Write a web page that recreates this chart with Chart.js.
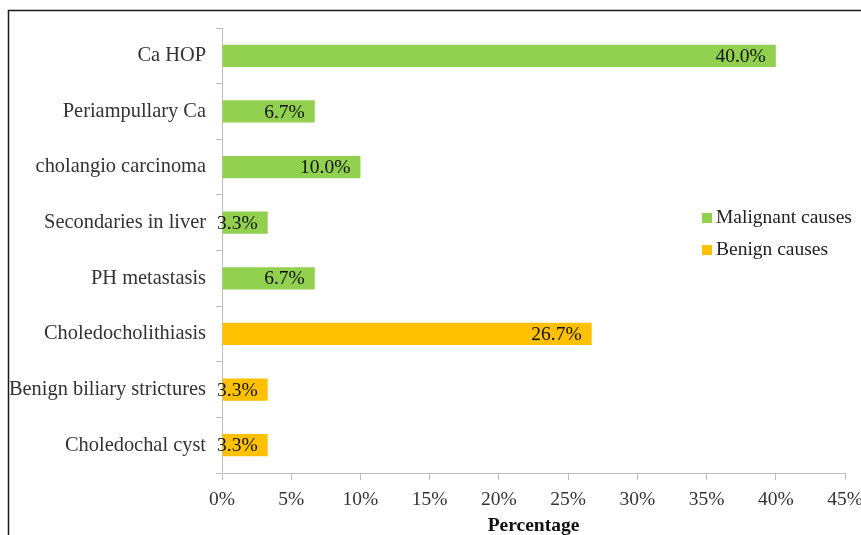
<!DOCTYPE html>
<html>
<head>
<meta charset="utf-8">
<script src="https://cdn.jsdelivr.net/npm/chart.js@4"></script>
<style>
html,body{margin:0;padding:0;background:#fff;}
#wrap{width:861px;height:535px;position:relative;}
</style>
</head>
<body>
<div id="wrap"><canvas id="c" width="861" height="535"></canvas></div>
<script>
const categories = ["Ca HOP","Periampullary Ca","cholangio carcinoma","Secondaries in liver","PH metastasis","Choledocholithiasis","Benign biliary strictures","Choledochal cyst"];
const malignantValues = [40.0, 6.7, 10.0, 3.3, 6.7, null, null, null];
const benignValues = [null, null, null, null, null, 26.7, 3.3, 3.3];
const xTicks = [0,5,10,15,20,25,30,35,40,45];
const seriesNames = ["Malignant causes","Benign causes"];
const seriesColors = ["#92D050","#FFC000"];

const FONT = "'Liberation Serif','Times New Roman',serif";
const FS = 19.5;
const CAT_FS = 20.4;

const borderPlugin = {
  id:'frame',
  beforeDraw(chart){
    const ctx = chart.ctx;
    ctx.save();
    ctx.fillStyle = '#fff';
    ctx.fillRect(0,0,chart.width,chart.height);
    ctx.strokeStyle = '#1a1a1a';
    ctx.lineWidth = 1.5;
    ctx.beginPath();
    ctx.moveTo(8.5, 540);
    ctx.lineTo(8.5, 10.5);
    ctx.lineTo(870, 10.5);
    ctx.stroke();
    ctx.restore();
  }
};

const labelPlugin = {
  id:'barLabels',
  afterDatasetsDraw(chart){
    const ctx = chart.ctx;
    ctx.save();
    ctx.font = FS + "px " + FONT;
    ctx.fillStyle = '#111';
    ctx.textAlign = 'right';
    ctx.textBaseline = 'middle';
    chart.data.datasets.forEach((ds, di) => {
      const meta = chart.getDatasetMeta(di);
      meta.data.forEach((bar, i) => {
        const v = ds.data[i];
        if (v === null || v === undefined) return;
        ctx.fillText(v.toFixed(1) + '%', bar.x - 10, bar.y + 1);
      });
    });
    ctx.restore();
  }
};

const legendPlugin = {
  id:'customLegend',
  afterDraw(chart){
    const ctx = chart.ctx;
    ctx.save();
    ctx.font = FS + "px " + FONT;
    ctx.textAlign = 'left';
    ctx.textBaseline = 'middle';
    const x0 = 702, ys = [218, 250];
    chart.data.datasets.forEach((ds, di) => {
      ctx.fillStyle = ds.backgroundColor;
      ctx.fillRect(x0, ys[di]-5, 10, 10);
      ctx.fillStyle = '#222';
      ctx.fillText(ds.label, x0 + 14, ys[di]);
    });
    ctx.restore();
  }
};

new Chart(document.getElementById('c'), {
  type:'bar',
  data:{
    labels: categories,
    datasets:[
      {label: seriesNames[0], data: malignantValues, backgroundColor: seriesColors[0], categoryPercentage:1, barPercentage:0.4},
      {label: seriesNames[1], data: benignValues, backgroundColor: seriesColors[1], categoryPercentage:1, barPercentage:0.4}
    ]
  },
  options:{
    indexAxis:'y',
    responsive:false,
    animation:false,
    devicePixelRatio:1,
    layout:{autoPadding:false, padding:{top:28,left:0,right:16,bottom:0}},
    plugins:{legend:{display:false},tooltip:{enabled:false}},
    scales:{
      y:{
        stacked:true,
        grid:{display:true, drawOnChartArea:false, drawTicks:true, tickLength:6, color:'#bfbfbf', offset:true},
        border:{display:true, color:'#bfbfbf'},
        ticks:{font:{family:FONT, size:CAT_FS}, color:'#333', padding:10},
        afterFit(scale){ scale.width = 222; }
      },
      x:{
        stacked:true,
        min:0, max:45,
        afterBuildTicks(scale){ scale.ticks = xTicks.map(v => ({value:v})); },
        grid:{display:true, drawOnChartArea:false, drawTicks:true, tickLength:7, color:'#bfbfbf'},
        border:{display:true, color:'#bfbfbf'},
        ticks:{font:{family:FONT, size:FS}, color:'#333', padding:8, maxRotation:0, callback:(v)=> v + '%'},
        title:{display:true, text:'Percentage', font:{family:FONT, size:FS, weight:'bold'}, color:'#111', padding:{top:2,bottom:-3}},
        afterFit(scale){ scale.height = 62; scale.paddingLeft = 0; scale.paddingRight = 0; }
      }
    }
  },
  plugins:[borderPlugin, labelPlugin, legendPlugin]
});
</script>
</body>
</html>
